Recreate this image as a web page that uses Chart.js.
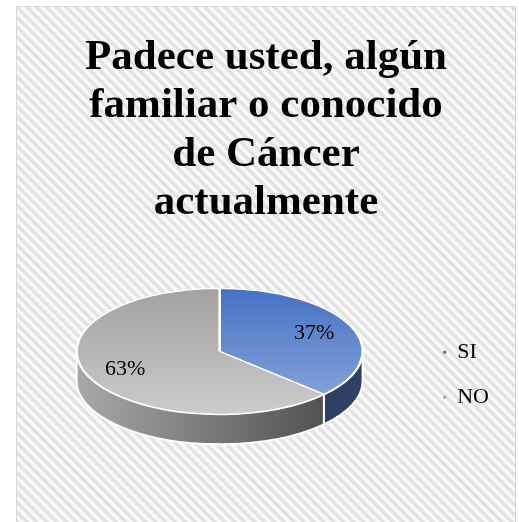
<!DOCTYPE html>
<html>
<head>
<meta charset="utf-8">
<script src="https://cdn.jsdelivr.net/npm/chart.js@4.4.0/dist/chart.umd.min.js"></script>
<style>
  html, body { margin: 0; padding: 0; background: #fff; overflow: hidden; }
  #wrap {
    position: absolute; left: 16px; top: 6px; width: 498px; height: 520px;
    border: 1px solid #d9d9d9;
    background: repeating-linear-gradient(45deg, #ffffff 0px, #dcdcdc 3.5px, #ffffff 7px);
  }
  #wrap canvas { position: absolute; left: 0; top: 0; }
</style>
</head>
<body>
<div id="wrap"><canvas id="c" width="498" height="516"></canvas></div>
<script>
// data
const titleLines = ["Padece usted, algún", "familiar o conocido", "de Cáncer", "actualmente"];
const categories = ["SI", "NO"];
const percentages = [37, 63];

// colours (top face gradient, side gradient, legend marker)
const topColors = [["#4571c4", "#8eaadc"], ["#a2a2a2", "#cbcbcb"]];
const sideColors = [["#2e4063", "#2e4063"], ["#a8a8a8", "#444444"]];
const legendColors = ["#4472c4", "#a5a5a5"];

const radius = 143;
const tilt = 0.44;   // vertical squash of the top face
const depth = 30;    // thickness of the 3d pie
const serif = "'Liberation Serif', 'Times New Roman', serif";

// part of [a,b] that faces the viewer (sin > 0)
function frontRange(a, b) {
  const out = [];
  for (let k = -1; k <= 1; k++) {
    const lo = k * 2 * Math.PI, hi = lo + Math.PI;
    const s = Math.max(a, lo), e = Math.min(b, hi);
    if (e > s) out.push([s, e]);
  }
  return out;
}

const pie3d = {
  id: "pie3d",
  beforeDatasetsDraw(chart) {
    const ctx = chart.ctx;
    const arcs = chart.getDatasetMeta(0).data;
    const { x: cx, y: cy, outerRadius: R } = arcs[0];
    const ry = R * tilt, top = cy - depth / 2;
    // sides first
    arcs.forEach((arc, i) => {
      frontRange(arc.startAngle, arc.endAngle).forEach(([s, e]) => {
        const g = ctx.createLinearGradient(cx - R, 0, cx + R, 0);
        g.addColorStop(0, sideColors[i][0]);
        g.addColorStop(1, sideColors[i][1]);
        ctx.beginPath();
        ctx.ellipse(cx, top, R, ry, 0, s, e);
        ctx.ellipse(cx, top + depth, R, ry, 0, e, s, true);
        ctx.closePath();
        ctx.fillStyle = g;
        ctx.fill();
        ctx.lineWidth = 2;
        ctx.strokeStyle = "#ffffff";
        ctx.stroke();
      });
    });
    // squash the top face
    ctx.save();
    ctx.translate(cx, top);
    ctx.scale(1, tilt);
    ctx.translate(-cx, -cy);
  },
  afterDatasetsDraw(chart) {
    const ctx = chart.ctx;
    ctx.restore();
    const arcs = chart.getDatasetMeta(0).data;
    const { x: cx, y: cy, outerRadius: R } = arcs[0];
    const ry = R * tilt, top = cy - depth / 2;
    ctx.save();
    ctx.font = "22px " + serif;
    ctx.fillStyle = "#000";
    ctx.textAlign = "center";
    ctx.textBaseline = "middle";
    arcs.forEach((arc, i) => {
      const mid = (arc.startAngle + arc.endAngle) / 2;
      const f = 0.72;
      ctx.fillText(percentages[i] + "%", cx + f * R * Math.cos(mid), top + f * ry * Math.sin(mid));
    });
    ctx.restore();
  }
};

function faceGradient(c) {
  const chart = c.chart, a = chart.chartArea;
  const cols = topColors[c.dataIndex];
  if (!a) return cols[0];
  const cy = (a.top + a.bottom) / 2;
  const g = chart.ctx.createLinearGradient(0, cy - radius, 0, cy + radius);
  g.addColorStop(0, cols[0]);
  g.addColorStop(1, cols[1]);
  return g;
}

new Chart(document.getElementById("c"), {
  type: "pie",
  data: {
    labels: categories,
    datasets: [{
      data: percentages,
      backgroundColor: faceGradient,
      borderColor: "#ffffff",
      borderWidth: 2.5,
      clip: false,
    }],
  },
  options: {
    responsive: false,
    animation: false,
    events: [],
    radius: radius,
    layout: { padding: { left: 16, right: 16, top: 0, bottom: 27 } },
    plugins: {
      title: {
        display: true,
        text: titleLines,
        color: "#000",
        font: { family: serif, size: 43, weight: "bold", lineHeight: 1.12 },
        padding: { top: 27, bottom: 10 },
      },
      // empty spacer between the pie and the legend
      subtitle: {
        display: true,
        position: "right",
        weight: 500,
        text: "",
        font: { size: 1, lineHeight: 1 },
        padding: { top: 6.5, bottom: 6.5 },
      },
      legend: {
        position: "right",
        fullSize: false,
        title: { display: true, text: " ", font: { size: 14, lineHeight: 1 }, padding: { top: 3, bottom: 0 } },
        labels: {
          color: "#000",
          font: { family: serif, size: 22 },
          boxWidth: 3,
          boxHeight: 3,
          padding: 23,
          generateLabels: (chart) => categories.map((c, i) => ({
            text: c,
            fillStyle: legendColors[i],
            strokeStyle: legendColors[i],
            lineWidth: 0,
            hidden: false,
            index: i,
            fontColor: "#000",
          })),
        },
      },
      tooltip: { enabled: false },
    },
  },
  plugins: [pie3d],
});
</script>
</body>
</html>
